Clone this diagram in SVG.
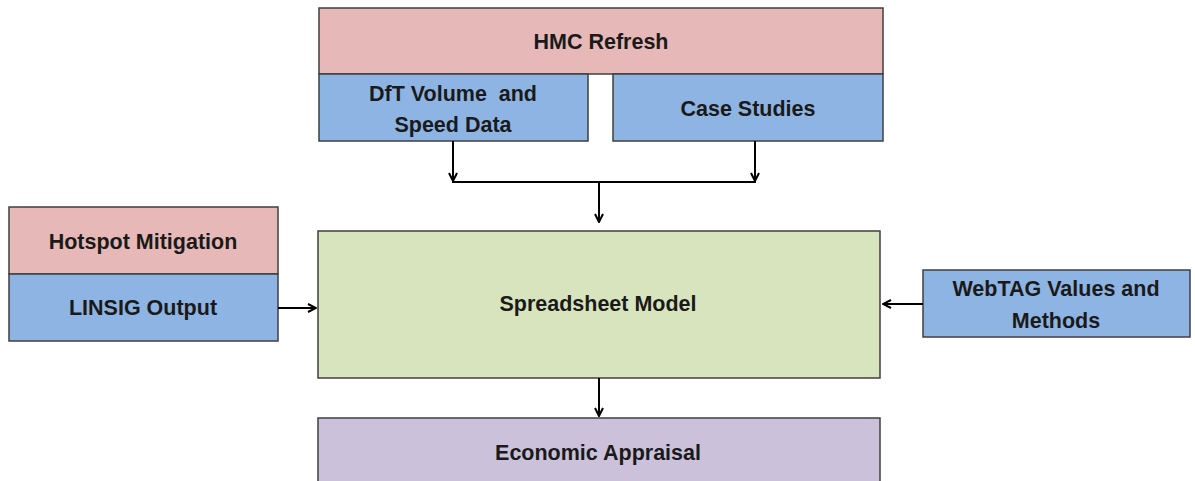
<svg xmlns="http://www.w3.org/2000/svg" width="1195" height="481" viewBox="0 0 1195 481">
<defs>
<marker id="ah" markerWidth="10" markerHeight="10" refX="9" refY="5" orient="auto" markerUnits="userSpaceOnUse">
<path d="M1,1 L9,5 L1,9" fill="none" stroke="#000" stroke-width="2"/>
</marker>
<style>
.box{stroke:#3f3f3f;stroke-width:1.5}
.pink{fill:#E6B8B7}.blue{fill:#8EB4E3}.green{fill:#D7E4BD}.purple{fill:#CCC1DA}
text{font-family:"Liberation Sans",Arial,sans-serif;font-weight:bold;font-size:21.5px;fill:#1a1a1a;text-anchor:middle}
.c{stroke:#000;stroke-width:2;fill:none}
</style>
</defs>
<rect width="1195" height="481" fill="#fff"/>
<g id="hmc"><rect class="box pink" x="319" y="8" width="564" height="66"/><text x="601" y="49">HMC Refresh</text></g>
<g id="dft"><rect class="box blue" x="319" y="74" width="269" height="67"/><text x="453" y="101" xml:space="preserve">DfT Volume  and</text><text x="453" y="132">Speed Data</text></g>
<g id="case"><rect class="box blue" x="613" y="74" width="270" height="67"/><text x="748" y="116">Case Studies</text></g>
<g id="hotspot"><rect class="box pink" x="9" y="207" width="269" height="67"/><text x="143" y="249">Hotspot Mitigation</text></g>
<g id="linsig"><rect class="box blue" x="9" y="274" width="269" height="67"/><text x="143" y="315">LINSIG Output</text></g>
<g id="spreadsheet"><rect class="box green" x="318" y="231" width="562" height="147"/><text x="598" y="311">Spreadsheet Model</text></g>
<g id="webtag"><rect class="box blue" x="923" y="270" width="267" height="67"/><text x="1056" y="296">WebTAG Values and</text><text x="1056" y="328">Methods</text></g>
<g id="econ"><rect class="box purple" x="318" y="418" width="562" height="70"/><text x="598" y="460">Economic Appraisal</text></g>
<g id="connectors">
<line class="c" x1="453" y1="141" x2="453" y2="181" marker-end="url(#ah)"/>
<line class="c" x1="755" y1="141" x2="755" y2="181" marker-end="url(#ah)"/>
<line class="c" x1="452" y1="182" x2="756" y2="182"/>
<line class="c" x1="599" y1="182" x2="599" y2="222" marker-end="url(#ah)"/>
<line class="c" x1="278" y1="308" x2="316" y2="308" marker-end="url(#ah)"/>
<line class="c" x1="923" y1="304" x2="883" y2="304" marker-end="url(#ah)"/>
<line class="c" x1="599" y1="378" x2="599" y2="416" marker-end="url(#ah)"/>
</g>
</svg>
